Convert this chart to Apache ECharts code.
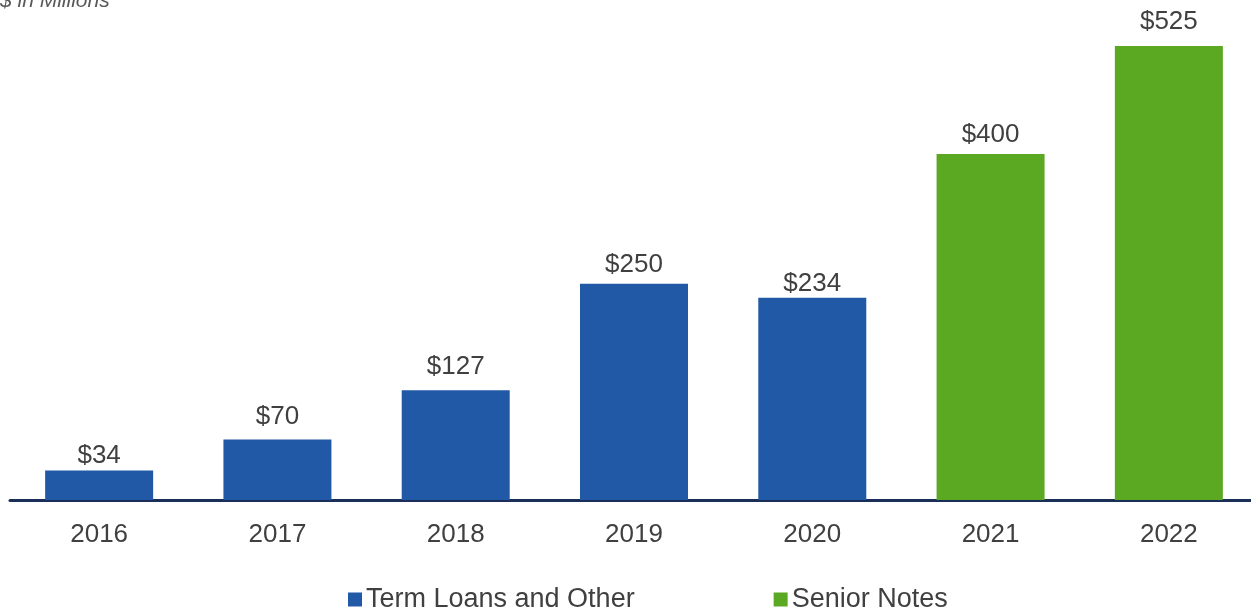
<!DOCTYPE html>
<html>
<head>
<meta charset="utf-8">
<script src="https://cdn.jsdelivr.net/npm/echarts@6/dist/echarts.min.js"></script>
<style>
  html, body { margin: 0; padding: 0; background: #fff; }
  #chart { width: 1251px; height: 608px; }
</style>
</head>
<body>
<div id="chart"></div>
<script>
const years = ['2016', '2017', '2018', '2019', '2020', '2021', '2022'];
const termLoans = [34, 70, 127, 250, 234, '-', '-'];
const seniorNotes = ['-', '-', '-', '-', '-', 400, 525];

// label offsets above bars (the original places them by hand)
const labelGap = [2, 10, 10, 6, 1, 6, 11];

const font = 'Liberation Sans, Arial, sans-serif';

const chart = echarts.init(document.getElementById('chart'));

function labelled(values) {
    return values.map((v, i) => v === '-' ? v : {
        value: v,
        label: { distance: labelGap[i] }
    });
}

// value labels above each bar
const valueLabel = {
    show: true,
    position: 'top',
    color: '#404040',
    fontSize: 26,
    fontFamily: font,
    formatter: p => '$' + p.value
};

const option = {
    animation: false,
    grid: {
        left: 10,
        right: -7,
        top: 46,
        bottom: 108,
        outerBoundsMode: 'none'
    },
    legend: {
        bottom: -10,
        left: 343,
        itemWidth: 14,
        itemHeight: 14,
        itemGap: 139,
        icon: 'rect',
        textStyle: { color: '#404040', fontSize: 27, fontFamily: font, padding: [0, 0, 0, -1] },
        data: ['Term Loans and Other', 'Senior Notes']
    },
    xAxis: {
        type: 'category',
        data: years,
        axisTick: { show: false },
        axisLine: { lineStyle: { color: '#1B2E58', width: 3 } },
        axisLabel: { color: '#404040', fontSize: 26, fontFamily: font, margin: 22 }
    },
    yAxis: {
        type: 'value',
        min: 0,
        max: 525,
        show: false,
        splitLine: { show: false }
    },
    series: [
        {
            name: 'Term Loans and Other',
            type: 'bar',
            barWidth: 108,
            barGap: '-100%',
            itemStyle: { color: '#2259A6' },
            label: valueLabel,
            data: labelled(termLoans)
        },
        {
            name: 'Senior Notes',
            type: 'bar',
            barWidth: 108,
            itemStyle: { color: '#5BA823' },
            label: valueLabel,
            data: labelled(seniorNotes)
        }
    ],
    graphic: [{
        type: 'text',
        left: 0,
        top: -9,
        style: {
            text: '$ in Millions',
            fill: '#595959',
            font: 'italic 21px ' + font
        }
    }]
};

chart.setOption(option);
</script>
</body>
</html>
